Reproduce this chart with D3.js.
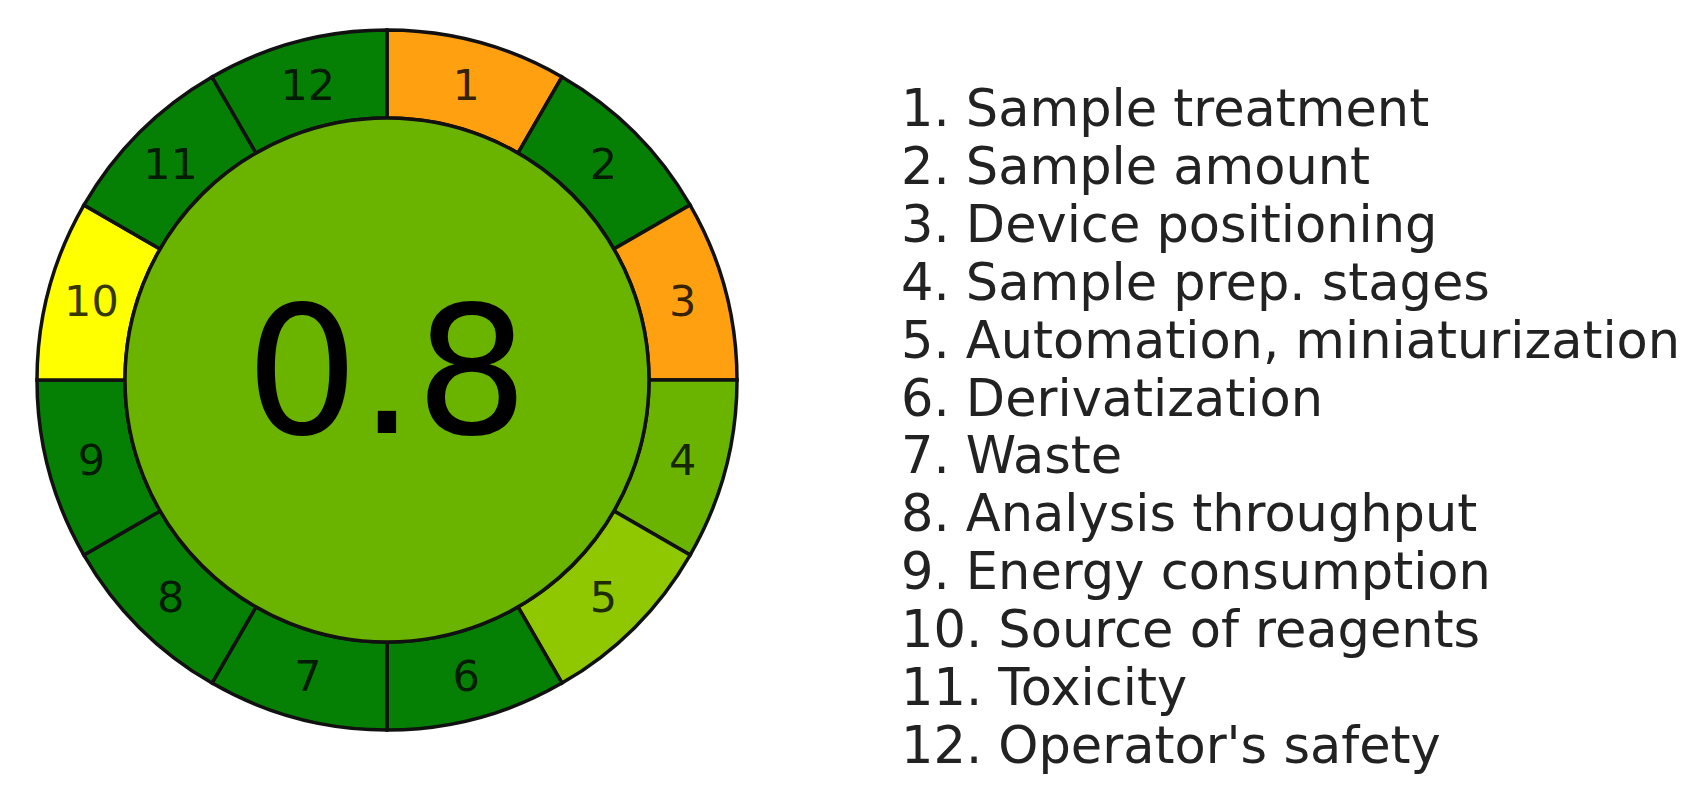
<!DOCTYPE html>
<html>
<head>
<meta charset="utf-8">
<script src="https://cdn.jsdelivr.net/npm/d3@7"></script>
<style>
  body { margin: 0; background: #fff; }
  svg text { font-family: "DejaVu Sans", sans-serif; }
</style>
</head>
<body>
<div class="chart"></div>
<script>
// AGREE pictogram data
var segments = ["1","2","3","4","5","6","7","8","9","10","11","12"];
var scores = [0.4, 1, 0.4, 0.8, 0.75, 1, 1, 1, 1, 0.6, 1, 1];
var criteria = [
  "1. Sample treatment",
  "2. Sample amount",
  "3. Device positioning",
  "4. Sample prep. stages",
  "5. Automation, miniaturization",
  "6. Derivatization",
  "7. Waste",
  "8. Analysis throughput",
  "9. Energy consumption",
  "10. Source of reagents",
  "11. Toxicity",
  "12. Operator's safety"
];
var total = 0.8;

var width = 1702, height = 800;
var cx = 387, cy = 380;
var rOuter = 350, rInner = 262;

var svg = d3.select(".chart").append("svg")
  .attr("width", width)
  .attr("height", height);

// score -> colour, red through yellow to green
var color = d3.scaleLinear()
  .domain([0, 0.4, 0.6, 0.8, 1])
  .range(["#ff0000", "#ffa010", "#ffff00", "#6ab400", "#058005"]);

var pie = d3.pie().sort(null).value(1);
var arc = d3.arc().innerRadius(rInner).outerRadius(rOuter);
var labelArc = d3.arc().innerRadius((rInner + rOuter) / 2).outerRadius((rInner + rOuter) / 2);

var g = svg.append("g").attr("transform", "translate(" + cx + "," + cy + ")");

var slices = g.selectAll("g.seg")
  .data(pie(scores))
  .enter().append("g")
    .attr("class", "seg");

slices.append("path")
  .attr("d", arc)
  .attr("fill", function(d) { return color(d.data); })
  .attr("stroke", "#111")
  .attr("stroke-width", 3.5);

slices.append("text")
  .attr("transform", function(d) { return "translate(" + labelArc.centroid(d) + ")"; })
  .attr("text-anchor", "middle")
  .attr("dy", "0.36em")
  .attr("font-size", 43)
  .attr("fill", "#000")
  .attr("fill-opacity", 0.8)
  .text(function(d, i) { return segments[i]; });

// centre disc
g.append("circle")
  .attr("r", rInner)
  .attr("fill", color(total))
  .attr("stroke", "#111")
  .attr("stroke-width", 3.5);

g.append("text")
  .attr("text-anchor", "middle")
  .attr("y", 53)
  .attr("font-size", 178)
  .attr("fill", "#000")
  .text(total);

// legend
var legendX = 901, legendY = 126, lineH = 57.9;
svg.append("g").selectAll("text")
  .data(criteria)
  .enter().append("text")
    .attr("x", legendX)
    .attr("y", function(d, i) { return legendY + i * lineH; })
    .attr("font-size", 51)
    .attr("fill", "#222")
    .text(function(d) { return d; });
</script>
</body>
</html>
